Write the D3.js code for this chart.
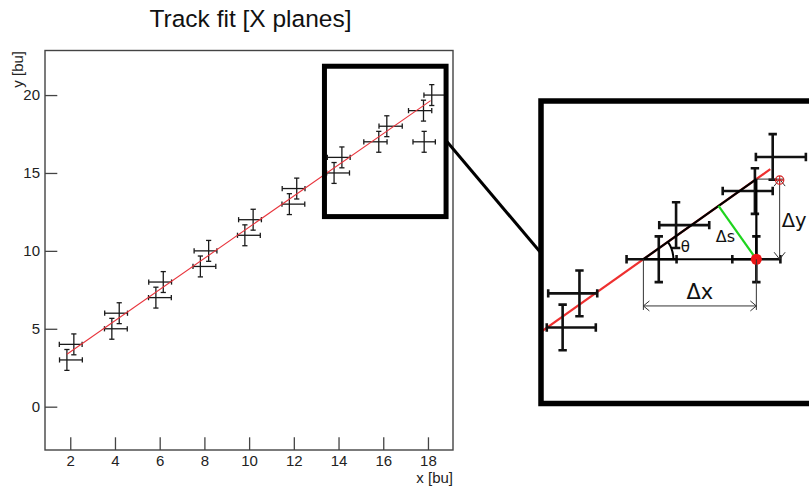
<!DOCTYPE html>
<html>
<head>
<meta charset="utf-8">
<script src="https://cdn.jsdelivr.net/npm/d3@7"></script>
<style>
  body { margin: 0; background: #fff; }
  svg { display: block; }
</style>
</head>
<body>
<svg id="chart" width="809" height="490"></svg>
<script>
// Hits in the X planes (bu): measured position and uncertainties
const hitX     = [1.85, 2.16, 3.86, 4.19, 5.83, 6.16, 7.82, 8.19, 9.81, 10.18, 11.8, 12.13, 13.8, 14.15, 15.8, 16.16, 17.8, 18.17, 17.83];
const hitY     = [3, 4, 5, 6, 7, 8, 9, 10, 11, 12, 13, 14, 15, 16, 17, 18, 19, 20, 17];
const errXLow  = [0.33, 0.65, 0.33, 0.65, 0.33, 0.65, 0.33, 0.65, 0.33, 0.65, 0.33, 0.65, 0.33, 0.65, 0.67, 0.35, 0.67, 0.35, 0.5];
const errXHigh = [0.69, 0.37, 0.69, 0.37, 0.69, 0.37, 0.69, 0.37, 0.69, 0.37, 0.69, 0.37, 0.69, 0.37, 0.37, 0.69, 0.37, 0.69, 0.5];
const errY     = [0.67, 0.67, 0.67, 0.67, 0.67, 0.67, 0.67, 0.67, 0.67, 0.67, 0.67, 0.67, 0.67, 0.67, 0.67, 0.67, 0.67, 0.67, 0.67];

// Straight-line track fit y = slope * x + intercept over the fitted range
const fitSlope = 1.0;
const fitIntercept = 1.52;
const fitRange = [1.85, 18.12];

// Axis ticks
const xTicks = [2, 4, 6, 8, 10, 12, 14, 16, 18];
const yTicks = [0, 5, 10, 15, 20];
const xMinorTicks = d3.range(1, 19.01, 0.5);
const yMinorTicks = d3.range(-2, 22.01, 1);

// Region of the track that is magnified, and the hit examined in the magnified view
const zoomX = [13.37, 18.81];
const zoomY = [12.2, 21.85];
const insetX = [13.35, 19.05];
const insetY = [12.77, 21.64];
const outlierIndex = 18;

const svg = d3.select("#chart");
const sans = "'Liberation Sans', Arial, Helvetica, sans-serif";
const dejavu = "'DejaVu Sans', sans-serif";

const frame = { left: 45, right: 453, top: 50.5, bottom: 450 };
const x = d3.scaleLinear().domain([0.87, 19.12]).range([frame.left, frame.right]);
const y = d3.scaleLinear().domain([-2.78, 22.86]).range([frame.bottom, frame.top]);

// Title
svg.append("text")
  .attr("x", 250.5).attr("y", 27)
  .attr("text-anchor", "middle")
  .attr("font-family", sans).attr("font-size", 24.5)
  .attr("fill", "#111")
  .text("Track fit [X planes]");

// Axes: ticks drawn inside the frame
const axisColor = "#444";
const gx = svg.append("g").attr("transform", `translate(0,${frame.bottom})`);
gx.call(d3.axisBottom(x).tickValues(xMinorTicks).tickSize(-6.7).tickFormat(""));
gx.call(d3.axisBottom(x).tickValues(xTicks).tickSize(-12.7).tickPadding(5).tickFormat(d3.format("d")));
gx.selectAll(".domain").remove();
const gy = svg.append("g").attr("transform", `translate(${frame.left},0)`);
gy.call(d3.axisLeft(y).tickValues(yMinorTicks).tickSize(-7.3).tickFormat(""));
gy.call(d3.axisLeft(y).tickValues(yTicks).tickSize(-12.3).tickPadding(5).tickFormat(d3.format("d")));
gy.selectAll(".domain").remove();
svg.selectAll(".tick line").attr("stroke", axisColor).attr("stroke-width", 1.3);
svg.selectAll(".tick text").attr("font-family", sans).attr("font-size", 15).attr("fill", "#222");

svg.append("rect")
  .attr("x", frame.left).attr("y", frame.top)
  .attr("width", frame.right - frame.left).attr("height", frame.bottom - frame.top)
  .attr("fill", "none").attr("stroke", axisColor).attr("stroke-width", 1.4);

svg.append("text")
  .attr("x", frame.right).attr("y", 483)
  .attr("text-anchor", "end")
  .attr("font-family", sans).attr("font-size", 15).attr("fill", "#222")
  .text("x [bu]");
svg.append("text")
  .attr("transform", `translate(23,${frame.top + 0.5}) rotate(-90)`)
  .attr("text-anchor", "end")
  .attr("font-family", sans).attr("font-size", 15).attr("fill", "#222")
  .text("y [bu]");

const hits = hitX.map((hx, i) => ({ x: hx, y: hitY[i], exl: errXLow[i], exh: errXHigh[i], ey: errY[i] }));

// Error-bar crosses with end caps
function drawCrosses(g, sx, sy, cap, width, color) {
  const segs = [];
  hits.forEach(h => {
    const px = sx(h.x), py = sy(h.y);
    const x0 = sx(h.x - h.exl), x1 = sx(h.x + h.exh);
    const y0 = sy(h.y - h.ey), y1 = sy(h.y + h.ey);
    segs.push([x0, py, x1, py], [px, y0, px, y1]);
    segs.push([x0, py - cap, x0, py + cap], [x1, py - cap, x1, py + cap]);
    segs.push([px - cap, y0, px + cap, y0], [px - cap, y1, px + cap, y1]);
  });
  g.selectAll("line.err").data(segs).join("line").attr("class", "err")
    .attr("x1", d => d[0]).attr("y1", d => d[1])
    .attr("x2", d => d[2]).attr("y2", d => d[3])
    .attr("stroke", color).attr("stroke-width", width);
}

function fitLine(sx, sy) {
  return d3.line().x(d => sx(d)).y(d => sy(fitSlope * d + fitIntercept))(fitRange);
}

const gMain = svg.append("g");
drawCrosses(gMain, x, y, 2.6, 1.3, "#1a1a1a");
gMain.append("path")
  .attr("d", fitLine(x, y))
  .attr("fill", "none").attr("stroke", "#e8343c").attr("stroke-width", 1.1);

// Box around the magnified region and the connector to the inset
svg.append("rect")
  .attr("x", x(zoomX[0])).attr("y", y(zoomY[1]))
  .attr("width", x(zoomX[1]) - x(zoomX[0])).attr("height", y(zoomY[0]) - y(zoomY[1]))
  .attr("fill", "none").attr("stroke", "#000").attr("stroke-width", 5);

const inset = { left: 541, right: 815, top: 101, bottom: 403.5 };
svg.append("line")
  .attr("x1", x(zoomX[1]) + 1).attr("y1", y(17))
  .attr("x2", inset.left).attr("y2", 253)
  .attr("stroke", "#000").attr("stroke-width", 3);

// Magnified view
const xi = d3.scaleLinear().domain(insetX).range([inset.left, inset.right]);
const yi = d3.scaleLinear().domain(insetY).range([inset.bottom, inset.top]);

svg.append("clipPath").attr("id", "inset-clip")
  .append("rect")
  .attr("x", inset.left).attr("y", inset.top)
  .attr("width", inset.right - inset.left).attr("height", inset.bottom - inset.top);

const gIn = svg.append("g").attr("clip-path", "url(#inset-clip)");
gIn.append("path")
  .attr("d", fitLine(xi, yi))
  .attr("fill", "none").attr("stroke", "#ee3030").attr("stroke-width", 2.2);
drawCrosses(gIn, xi, yi, 4.2, 2.6, "#111");

// Residual construction for the outlying hit
const hB = hits[outlierIndex];
const A = [xi((hB.y - fitIntercept) / fitSlope), yi(hB.y)];
const B = [xi(hB.x), yi(hB.y)];
const C = [xi(hB.x), yi(fitSlope * hB.x + fitIntercept)];
const u = [C[0] - A[0], C[1] - A[1]];
const t = ((B[0] - A[0]) * u[0] + (B[1] - A[1]) * u[1]) / (u[0] * u[0] + u[1] * u[1]);
const F = [A[0] + t * u[0], A[1] + t * u[1]];

const blackSegs = [[A, C], [A, B], [C, B]];
gIn.selectAll("line.tri").data(blackSegs).join("line").attr("class", "tri")
  .attr("x1", d => d[0][0]).attr("y1", d => d[0][1])
  .attr("x2", d => d[1][0]).attr("y2", d => d[1][1])
  .attr("stroke", "#000").attr("stroke-width", 2.2);

gIn.append("line")
  .attr("x1", B[0]).attr("y1", B[1]).attr("x2", F[0]).attr("y2", F[1])
  .attr("stroke", "#1ed41e").attr("stroke-width", 2.2);

// Angle between the fit and the x direction
const lineAngle = Math.atan2(u[0], -u[1]);
const arcPath = d3.path();
arcPath.arc(A[0], A[1], 30, lineAngle - Math.PI / 2, 0);
gIn.append("path").attr("d", arcPath.toString())
  .attr("fill", "none").attr("stroke", "#000").attr("stroke-width", 2);
gIn.append("text")
  .attr("x", A[0] + 42).attr("y", A[1] - 7)
  .attr("text-anchor", "middle")
  .attr("font-family", dejavu).attr("font-size", 15).attr("fill", "#111")
  .text("θ");

gIn.append("circle").attr("cx", B[0]).attr("cy", B[1]).attr("r", 5.5).attr("fill", "#ee1515");

gIn.append("text")
  .attr("x", (B[0] + F[0]) / 2 - 12).attr("y", (B[1] + F[1]) / 2 + 9)
  .attr("text-anchor", "middle")
  .attr("font-family", dejavu).attr("font-size", 16).attr("fill", "#111")
  .text("Δs");

// Dimension lines for Δx and Δy
const dim = gIn.append("g").attr("stroke", "#333").attr("stroke-width", 1).attr("fill", "none");
const dxY = B[1] + 46.7;
dim.append("line").attr("x1", A[0]).attr("y1", A[1]).attr("x2", A[0]).attr("y2", dxY + 4);
dim.append("line").attr("x1", B[0]).attr("y1", B[1]).attr("x2", B[0]).attr("y2", dxY + 4);
dim.append("line").attr("x1", A[0]).attr("y1", dxY).attr("x2", B[0]).attr("y2", dxY);
dim.append("polyline").attr("points", `${A[0] + 6},${dxY - 5} ${A[0]},${dxY} ${A[0] + 6},${dxY + 5}`);
dim.append("polyline").attr("points", `${B[0] - 6},${dxY - 5} ${B[0]},${dxY} ${B[0] - 6},${dxY + 5}`);

const dyX = B[0] + 23.3;
dim.append("line").attr("x1", C[0]).attr("y1", C[1]).attr("x2", dyX + 4).attr("y2", C[1]);
dim.append("line").attr("x1", dyX).attr("y1", C[1]).attr("x2", dyX).attr("y2", B[1]);
dim.append("polyline").attr("points", `${dyX - 5.5},${B[1] - 7} ${dyX},${B[1]} ${dyX + 5.5},${B[1] - 7}`);
dim.append("polyline").attr("points", `${dyX - 5.5},${C[1] + 7} ${dyX},${C[1]} ${dyX + 5.5},${C[1] + 7}`);

const marker = gIn.append("g").attr("stroke", "#d42020").attr("stroke-width", 1.1).attr("fill", "none");
marker.append("circle").attr("cx", dyX).attr("cy", C[1] + 1).attr("r", 4.2);
marker.append("line").attr("x1", dyX - 4.2).attr("y1", C[1] + 1).attr("x2", dyX + 4.2).attr("y2", C[1] + 1);
marker.append("line").attr("x1", dyX).attr("y1", C[1] - 3.2).attr("x2", dyX).attr("y2", C[1] + 5.2);

gIn.append("text")
  .attr("x", (A[0] + B[0]) / 2).attr("y", dxY - 7)
  .attr("text-anchor", "middle")
  .attr("font-family", dejavu).attr("font-size", 21).attr("fill", "#111")
  .text("Δx");
gIn.append("text")
  .attr("x", dyX + 2).attr("y", (B[1] + C[1]) / 2 + 7.5)
  .attr("text-anchor", "start")
  .attr("font-family", dejavu).attr("font-size", 19.5).attr("fill", "#111")
  .text("Δy");

svg.append("rect")
  .attr("x", inset.left).attr("y", inset.top)
  .attr("width", inset.right - inset.left).attr("height", inset.bottom - inset.top)
  .attr("fill", "none").attr("stroke", "#000").attr("stroke-width", 5.5);
</script>
</body>
</html>
